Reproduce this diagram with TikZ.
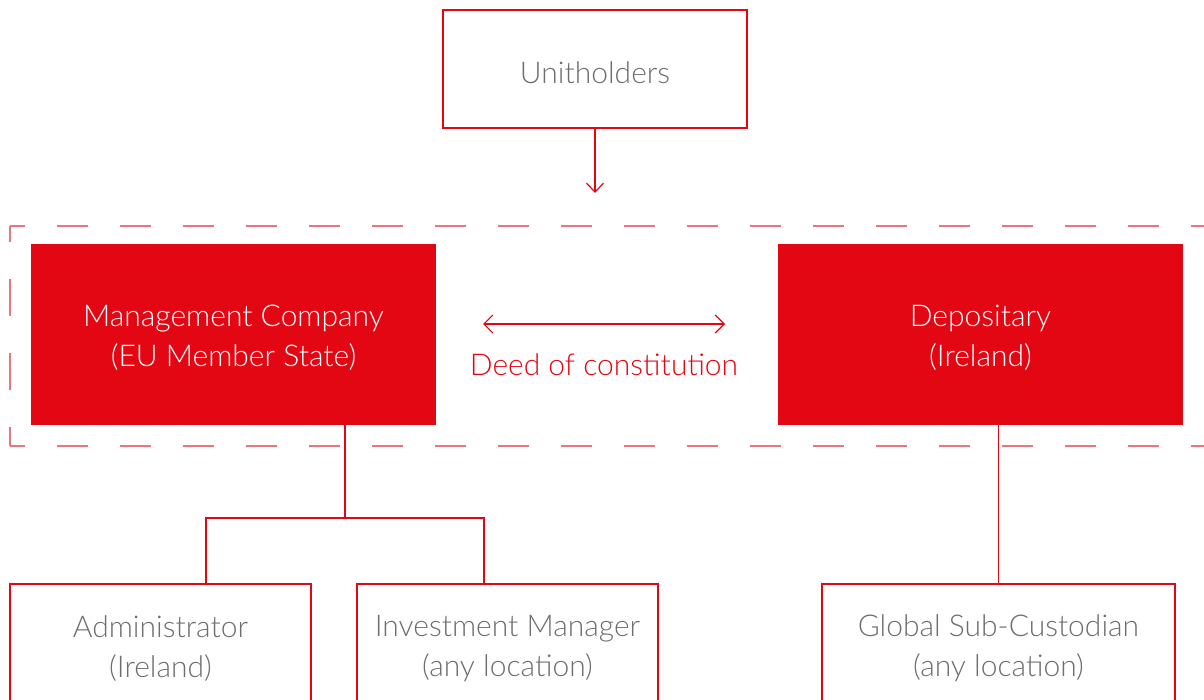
\documentclass[tikz,border=0pt]{standalone}
\usepackage{fontspec}
\setmainfont{Lato Light}
\usetikzlibrary{arrows.meta}
\definecolor{brandred}{HTML}{E30613}
\definecolor{framered}{HTML}{EC7480}
\definecolor{textgray}{HTML}{6E6E6E}
\begin{document}
\begin{tikzpicture}[x=1pt,y=-1pt,
  every node/.style={inner sep=0pt,outer sep=0pt,align=center,
    font=\fontsize{30}{40}\selectfont},
  outlinebox/.style={draw=brandred,line width=1.4pt,fill=white,
    minimum width=304,minimum height=118},
  solidbox/.style={fill=brandred,minimum width=405,minimum height=181},
  lowbox/.style={draw=brandred,line width=1.4pt,
    minimum width=#1,minimum height=122},
  boxtext/.style={text=#1,yshift=-3.5pt},
  boxtext/.default=textgray,
  link/.style={draw=brandred,line width=1.2pt},
  chevron/.style={-{Straight Barb[length=9pt,width=17pt,line width=1.2pt]}},
  frameline/.style={draw=framered,line width=1.4pt}]
\useasboundingbox (0,0) rectangle (1204,700);

% dashed frame around the two principal parties (open on the right)
\draw[frameline,dash pattern=on 31pt off 32pt,dash phase=16pt] (10,226) -- (1204,226);
\draw[frameline,dash pattern=on 31pt off 32pt,dash phase=16pt] (10,446) -- (1204,446);
\draw[frameline,dash pattern=on 37pt off 37pt,dash phase=18pt] (10,446) -- (10,226);

% boxes
\node[outlinebox] (unit) at (595,69) {};
\node[solidbox] (mgmt) at (233.5,334.5) {};
\node[solidbox] (dep) at (980.5,334.5) {};
\node[lowbox=301] (admin) at (160.5,645) {};
\node[lowbox=301] (inv) at (507.5,645) {};
\node[lowbox=353] (gsc) at (998.5,645) {};

% box captions
\node[boxtext] (unittxt) at (unit) {Unitholders};
\node[boxtext=white] (mgmttxt) at (mgmt) {Management Company\\(EU Member State)};
\node[boxtext=white] (deptxt) at (dep) {Depositary\\(Ireland)};
\node[boxtext] (admintxt) at (admin) {Administrator\\(Ireland)};
\node[boxtext] (invtxt) at (inv) {Investment Manager\\(any location)};
\node[boxtext] (gsctxt) at (gsc) {Global Sub-Custodian\\(any location)};

% unitholders feed into the fund structure
\coordinate (unitend) at (595,193);
\draw[link,chevron] (unit.south) -- (unitend);

% deed of constitution between management company and depositary
\coordinate (deedl) at (483,324);
\coordinate (deedr) at (725,324);
\draw[link,{Straight Barb[length=9pt,width=18pt,line width=1.2pt]}-{Straight Barb[length=9pt,width=18pt,line width=1.2pt]}] (deedl) -- (deedr);
\node[text=brandred] (deed) at (604,365) {Deed of constitution};

% delegation tree below the management company
\coordinate (split) at (345,518);
\draw[link] (split |- mgmt.south) -- (split);
\draw[link] ([xshift=45.5pt]admin.north) |- (split) -| ([xshift=-23.5pt]inv.north);

% depositary to sub-custodian
\draw[link] (gsc.north) -- (gsc.north |- dep.south);
\end{tikzpicture}
\end{document}
